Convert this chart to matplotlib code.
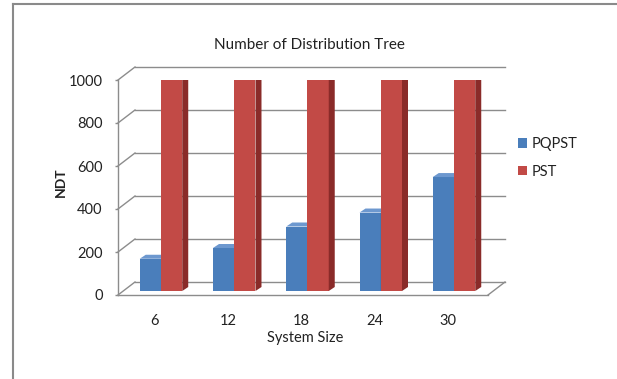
import matplotlib.pyplot as plt
import matplotlib.transforms as mtransforms
from matplotlib.patches import Polygon
from matplotlib.lines import Line2D

# values per system size
system_size = ['6', '12', '18', '24', '30']
pqpst = [150, 200, 300, 365, 530]
pst = [1000, 1000, 1000, 1000, 1000]
y_ticks = [0, 200, 400, 600, 800, 1000]
series_names = ['PQPST', 'PST']

plt.rcParams['font.family'] = ['Lato', 'DejaVu Sans']

W, H = 617, 379
fig = plt.figure(figsize=(W / 100, H / 100), dpi=100)


def fpos(x, y):
    # pixel position (from top-left) to figure fraction
    return x / W, 1 - y / H


ax = fig.add_axes([118 / W, 1 - 295 / H, 370 / W, 215 / H])
xmin, xmax = -0.505, 4.546
ax.set_xlim(xmin, xmax)
ax.set_ylim(0, 1000)
ax.set_autoscale_on(False)

# how many data units one pixel is worth
x_px = (xmax - xmin) / 370
y_px = 1000 / 215

grid_col = '#8c8c8c'
text_col = '#222222'

# back wall and left wall gridlines
back_dx, back_dy = 17, 13
for v in y_ticks:
    ax.plot([xmin + back_dx * x_px, xmax + back_dx * x_px],
            [v + back_dy * y_px] * 2, color=grid_col, lw=1, clip_on=False, zorder=1)
    ax.plot([xmin, xmin + back_dx * x_px], [v, v + back_dy * y_px],
            color=grid_col, lw=1, clip_on=False, zorder=1)
# right edge of the floor
ax.plot([xmax, xmax + back_dx * x_px], [0, back_dy * y_px],
        color=grid_col, lw=1, clip_on=False, zorder=1)

# bars sit a little behind the front edge of the floor
bar_tr = mtransforms.offset_copy(ax.transData, fig=fig, x=6, y=4, units='dots')
w = 0.29
depth_x, depth_y = 6 * x_px, 4 * y_px
xs = list(range(len(system_size)))


def column_3d(lefts, vals, front, top, side):
    bars = ax.bar(lefts, vals, width=w, align='edge', color=front,
                  transform=bar_tr, zorder=3, linewidth=0)
    for b in bars:
        x0 = b.get_x()
        x1 = x0 + b.get_width()
        h = b.get_height()
        ax.add_patch(Polygon([(x0, h), (x1, h), (x1 + depth_x, h + depth_y),
                              (x0 + depth_x, h + depth_y)],
                             closed=True, color=top, transform=bar_tr, zorder=3, lw=0))
        ax.add_patch(Polygon([(x1, 0), (x1, h), (x1 + depth_x, h + depth_y),
                              (x1 + depth_x, depth_y)],
                             closed=True, color=side, transform=bar_tr, zorder=3, lw=0))
    return bars


b1 = column_3d([x - w for x in xs], pqpst, '#4a7ebb', '#6d98cf', '#365f91')
b2 = column_3d(xs, pst, '#c24a46', '#cf6562', '#8a2b29')

# axes: front vertical axis and floor front edge
for s in ['top', 'right']:
    ax.spines[s].set_visible(False)
for s in ['left', 'bottom']:
    ax.spines[s].set_color(grid_col)
    ax.spines[s].set_linewidth(1)
ax.spines['left'].set_zorder(4)

ax.set_yticks(y_ticks)
ax.set_yticklabels([str(v) for v in y_ticks])
ax.set_xticks(xs)
ax.set_xticklabels(system_size)
ax.tick_params(axis='y', length=2.5, width=1, color=grid_col, pad=8.5,
               labelsize=10.5, labelcolor=text_col)
ax.tick_params(axis='x', length=0, pad=14, labelsize=10.5, labelcolor=text_col)

fig.text(*fpos(309, 45), 'Number of Distribution Tree', ha='center', va='center',
         fontsize=11, color=text_col)
fig.text(*fpos(305, 338), 'System Size', ha='center', va='center',
         fontsize=10.5, color=text_col)
fig.text(*fpos(61, 182), 'NDT', ha='center', va='center', rotation=90,
         fontsize=10, fontweight='bold', color=text_col)

fig.legend([b1, b2], series_names, loc='center left', bbox_to_anchor=fpos(505, 158),
           frameon=False, handlelength=0.6, handleheight=0.6, handletextpad=0.3,
           labelspacing=0.95, fontsize=10.5, labelcolor=text_col)

# chart frame
fig.add_artist(Line2D([13 / W, 13 / W], [0, 1 - 4 / H], color='#8a8a8a', lw=1.5))
fig.add_artist(Line2D([13 / W, 1.01], [1 - 4 / H, 1 - 4 / H], color='#8a8a8a', lw=1.5))

fig.savefig('out.png', dpi=100)
